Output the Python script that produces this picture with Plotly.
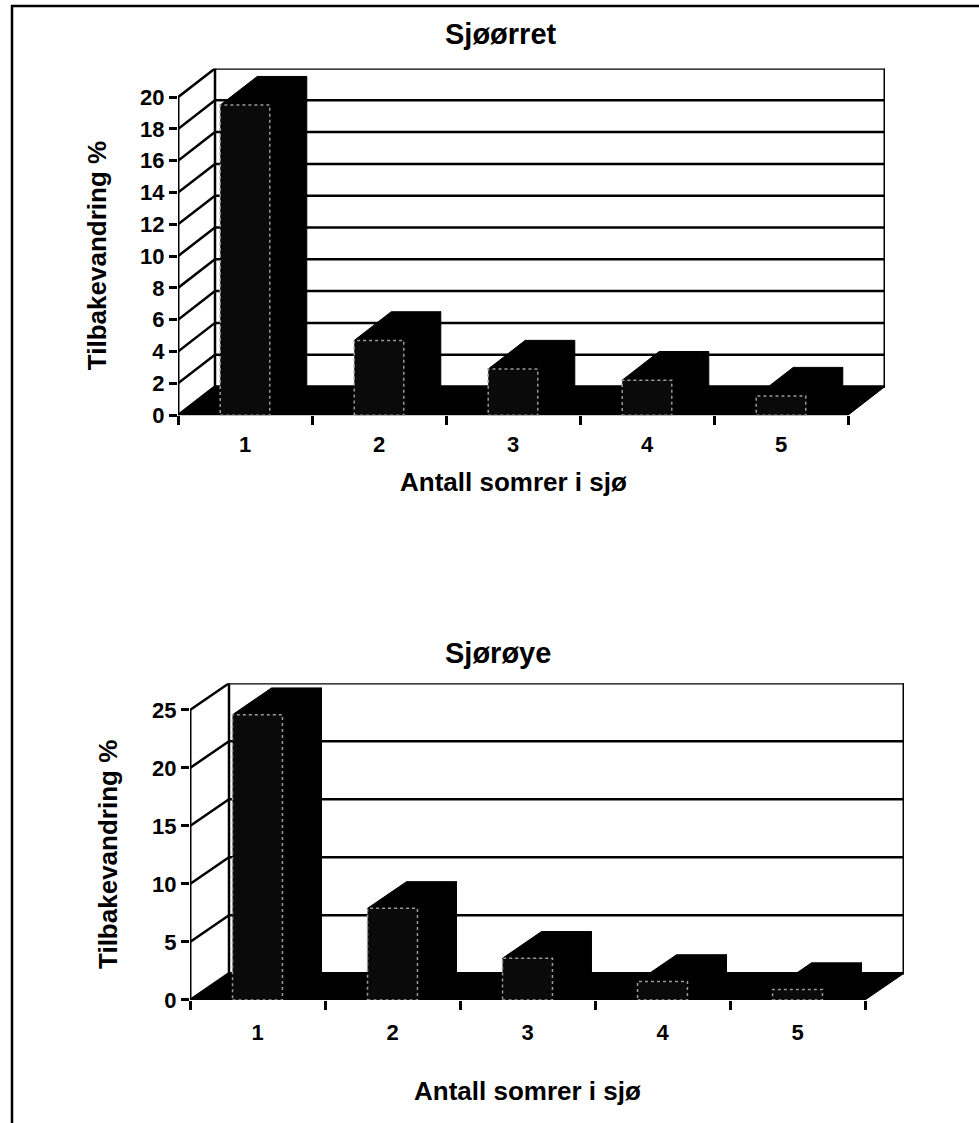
import plotly.graph_objects as go

# ---------------- data ----------------
categories = ["1", "2", "3", "4", "5"]
sjoorret_values = [19.5, 4.7, 2.9, 2.2, 1.2]
sjoroye_values = [24.6, 7.9, 3.6, 1.6, 0.9]
sjoorret_ticks = [0, 2, 4, 6, 8, 10, 12, 14, 16, 18, 20]
sjoroye_ticks = [0, 5, 10, 15, 20, 25]
titles = ["Sjøørret", "Sjørøye"]
x_title = "Antall somrer i sjø"
y_title = "Tilbakevandring %"

W, H = 979, 1123
FONT = "Liberation Sans, Arial, sans-serif"

# layout of each panel in pixels (front floor edge, y-axis extent, 3D depth offset)
panels = [
    dict(title=titles[0], values=sjoorret_values, ticks=sjoorret_ticks,
         x0=178, x1=848, y0=420, ytop=98.3, dx=37, dy=29,
         title_y=34, xlab_y=488, ytitle_x=97, xticklen=9),
    dict(title=titles[1], values=sjoroye_values, ticks=sjoroye_ticks,
         x0=190, x1=865, y0=1011.7, ytop=718.3, dx=39, dy=27,
         title_y=661, xlab_y=1104, ytitle_x=108, xticklen=13),
]

fig = go.Figure()
BLACK = "#000000"
LW = 2.5

def px2x(p):
    return p / W

def px2y(p):
    return 1 - p / H

annotations = []
layout_axes = {}

for k, P in enumerate(panels):
    xa = "x" if k == 0 else "x2"
    ya = "y" if k == 0 else "y2"
    vals = P["values"]
    ticks = P["ticks"]
    ymax = ticks[-1]
    n = len(categories)
    catw = (P["x1"] - P["x0"]) / n
    ddx = P["dx"] / catw
    ppu = (P["y0"] - P["ytop"]) / ymax
    ddy = P["dy"] / ppu
    xl, xr = 0.5, n + 0.5

    def line(xs, ys, width=LW, color=BLACK, dash=None):
        fig.add_trace(go.Scatter(x=xs, y=ys, mode="lines", xaxis=xa, yaxis=ya,
                                 line=dict(color=color, width=width, dash=dash),
                                 hoverinfo="skip", showlegend=False))

    def poly(xs, ys, fill=BLACK, color=BLACK, width=1, dash=None):
        fig.add_trace(go.Scatter(x=xs + [xs[0]], y=ys + [ys[0]], mode="lines",
                                 fill="toself", fillcolor=fill, xaxis=xa, yaxis=ya,
                                 line=dict(color=color, width=width, dash=dash),
                                 hoverinfo="skip", showlegend=False))

    # back wall gridlines and left wall diagonals
    for t in ticks:
        line([xl + ddx, xr + ddx], [t + ddy, t + ddy])
        line([xl, xl + ddx], [t, t + ddy])
    # wall edges
    line([xl + ddx, xl + ddx], [ddy, ymax + ddy])
    line([xr + ddx, xr + ddx], [ddy, ymax + ddy], width=3)
    line([xl, xl], [0, ymax], width=3)
    # floor
    poly([xl, xr, xr + ddx, xl + ddx], [0, 0, ddy, ddy])

    # bars
    bw = 0.37
    for i, v in enumerate(vals):
        c = i + 1
        a, b = c - bw / 2, c + bw / 2
        # side face
        poly([b, b + ddx, b + ddx, b], [0, ddy, v + ddy, v])
        # top face
        poly([a, b, b + ddx, a + ddx], [v, v, v + ddy, v + ddy])
        # front face
        poly([a, b, b, a], [0, 0, v, v], fill="#0a0a0a", color="#9a9a9a", width=1.5, dash="dot")

    xax = dict(domain=[px2x(P["x0"]), px2x(P["x1"] + P["dx"])],
               range=[xl, xr + ddx], anchor=ya,
               showgrid=False, zeroline=False, showline=False,
               tickmode="array", tickvals=[i + 1 for i in range(n)],
               ticktext=["<b>%s</b>" % c for c in categories],
               ticks="outside", ticklen=P["xticklen"], tickcolor="rgba(0,0,0,0)",
               tickfont=dict(family=FONT, size=22, color=BLACK),
               minor=dict(tickmode="array", tickvals=[i + 0.5 for i in range(n + 1)],
                          ticks="outside", ticklen=9, tickwidth=3,
                          tickcolor=BLACK, showgrid=False),
               fixedrange=True)
    yax = dict(domain=[px2y(P["y0"]), px2y(P["ytop"] - P["dy"])],
               range=[0, ymax + ddy], anchor=xa,
               showgrid=False, zeroline=False, showline=False,
               tickmode="array", tickvals=ticks, ticktext=["<b>%d</b>" % t for t in ticks],
               ticks="outside", ticklen=8, tickwidth=3, tickcolor=BLACK,
               tickfont=dict(family=FONT, size=22, color=BLACK),
               fixedrange=True)
    if k == 0:
        layout_axes["xaxis"] = xax
        layout_axes["yaxis"] = yax
    else:
        layout_axes["xaxis2"] = xax
        layout_axes["yaxis2"] = yax

    # texts
    annotations.append(dict(text="<b>%s</b>" % P["title"], x=px2x(443), y=px2y(P["title_y"]),
                            xref="paper", yref="paper", xanchor="left", yanchor="middle",
                            showarrow=False, font=dict(family=FONT, size=29, color=BLACK)))
    annotations.append(dict(text="<b>%s</b>" % x_title, x=px2x((P["x0"] + P["x1"]) / 2),
                            y=px2y(P["xlab_y"]), xref="paper", yref="paper",
                            xanchor="center", yanchor="middle", showarrow=False,
                            font=dict(family=FONT, size=26, color=BLACK)))
    annotations.append(dict(text="<b>%s</b>" % y_title, x=px2x(P["ytitle_x"]),
                            y=px2y((P["y0"] + P["ytop"]) / 2), xref="paper", yref="paper",
                            xanchor="center", yanchor="middle", textangle=-90, showarrow=False,
                            font=dict(family=FONT, size=26, color=BLACK)))

fig.update_layout(
    width=W, height=H, margin=dict(l=0, r=0, t=0, b=0),
    paper_bgcolor="white", plot_bgcolor="rgba(0,0,0,0)",
    showlegend=False, annotations=annotations,
    shapes=[dict(type="rect", xref="paper", yref="paper",
                 x0=px2x(12), x1=px2x(W + 20), y0=px2y(H + 20), y1=px2y(6),
                 line=dict(color=BLACK, width=2.5), fillcolor="rgba(0,0,0,0)", layer="below")],
    **layout_axes,
)

fig.write_html("out.html")
